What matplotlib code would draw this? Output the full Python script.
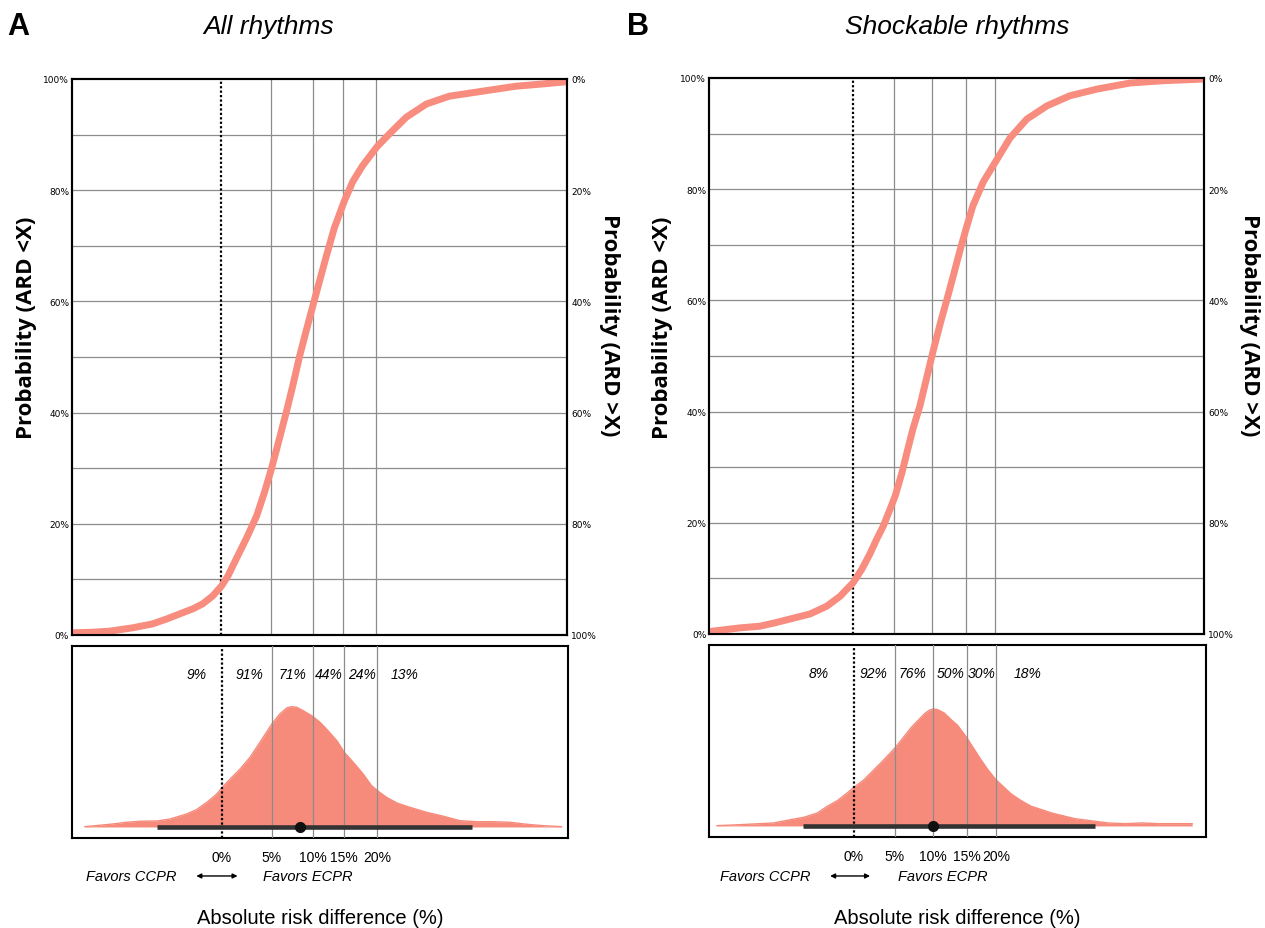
import matplotlib.pyplot as plt
import numpy as np

plt.rcParams['font.family'] = ['Liberation Sans', 'DejaVu Sans']

# x values are positions across the axis width (0-100),
# the ARD axis in the original figure is not linear
ard_labels = ['0%', '5%', '10%', '15%', '20%']
a_ard_pos = [30.2, 40.3, 48.6, 54.8, 61.5]
b_ard_pos = [29.1, 37.4, 45.1, 51.9, 57.8]

# cumulative probability (ARD < X), %
a_cdf_x = [0.2, 4.2, 7.7, 12.3, 16.3, 19.2, 21.2, 24.4, 26.4, 28.4, 30.2,
           31.5, 33.3, 35.3, 37.3, 38.9, 40.3, 41.9, 43.3, 44.6, 46.0, 47.4,
           48.6, 49.6, 51.4, 53.0, 55.0, 56.7, 58.7, 61.7, 64.1, 67.5, 71.6,
           76.2, 82.9, 89.7, 95.0, 99.8]
a_cdf_p = [0.4, 0.5, 0.7, 1.3, 2.0, 2.9, 3.6, 4.7, 5.6, 7.0, 8.8,
           10.6, 13.9, 17.5, 21.4, 25.7, 29.9, 35.3, 40.1, 44.8, 50.2, 55.0,
           59.0, 62.3, 68.2, 73.2, 78.0, 81.5, 84.4, 87.9, 90.1, 93.1, 95.5,
           96.9, 97.8, 98.7, 99.1, 99.5]

b_cdf_x = [0.6, 6.3, 10.3, 13.3, 16.4, 20.4, 23.8, 26.5, 28.1, 29.1, 30.9,
           32.5, 33.9, 35.2, 36.6, 37.6, 39.0, 40.0, 41.2, 42.6, 44.0, 45.3,
           46.7, 48.1, 49.1, 50.7, 52.1, 53.3, 55.4, 58.2, 60.8, 64.2, 68.3,
           72.9, 78.4, 85.1, 91.7, 99.8]
b_cdf_p = [0.5, 1.1, 1.4, 2.0, 2.7, 3.6, 5.0, 6.8, 8.3, 9.2, 11.7,
           14.4, 17.1, 19.4, 22.5, 24.8, 29.1, 32.7, 36.9, 41.0, 46.2, 51.0,
           55.8, 60.3, 63.6, 69.0, 73.4, 77.0, 81.3, 85.4, 89.2, 92.6, 95.0,
           96.8, 98.0, 99.1, 99.5, 99.8]

# posterior density (relative height)
a_dens_x = [2.6, 7.7, 11.0, 13.7, 17.1, 19.8, 23.1, 25.1, 27.2, 29.2, 30.3,
            31.9, 33.9, 35.9, 37.9, 40.3, 41.9, 43.3, 44.2, 45.3, 46.6, 48.5,
            50.0, 51.3, 53.4, 54.9, 56.7, 58.7, 60.4, 61.6, 63.4, 65.5, 68.1,
            71.5, 74.9, 78.2, 81.6, 84.9, 88.3, 91.7, 95.0, 98.7]
a_dens_y = [0.3, 2.7, 4.7, 5.7, 6.0, 8.0, 13.0, 17.3, 24.7, 33.0, 39.7,
            48.0, 58.0, 69.7, 84.7, 103.0, 113.0, 119.0, 120.3, 119.7, 116.3, 110.7,
            104.7, 98.0, 86.3, 74.7, 64.7, 53.0, 41.3, 36.3, 29.7, 24.0, 19.7,
            14.7, 10.7, 6.3, 5.3, 5.3, 4.7, 2.7, 1.3, 0.3]

b_dens_x = [1.6, 6.3, 13.0, 16.4, 19.1, 21.8, 23.8, 25.8, 27.8, 29.0, 31.2,
            33.2, 35.2, 37.4, 39.3, 40.6, 42.0, 43.3, 44.3, 45.1, 46.0, 47.3,
            48.7, 50.0, 51.9, 53.4, 54.7, 56.1, 57.7, 59.5, 60.8, 62.8, 64.8,
            66.9, 68.9, 71.6, 73.6, 77.6, 80.3, 83.7, 87.1, 90.4, 97.2]
b_dens_y = [0.3, 1.3, 3.0, 6.3, 8.7, 13.0, 19.7, 25.3, 33.0, 38.0, 46.3,
            56.3, 66.3, 78.0, 89.7, 98.0, 105.3, 112.0, 115.7, 117.0, 116.3, 113.0,
            106.3, 100.7, 88.0, 76.3, 66.3, 56.3, 46.3, 38.0, 32.0, 25.3, 19.7,
            16.3, 13.0, 9.7, 7.3, 4.7, 3.0, 2.3, 3.0, 2.3, 2.3]

# median and 95% interval
a_interval = [17.1, 46.0, 80.6]
b_interval = [19.0, 45.1, 77.6]

# P(ARD < 0) and P(ARD > x) labels
a_probs = ['9%', '91%', '71%', '44%', '24%', '13%']
a_prob_pos = [25.2, 35.7, 44.4, 51.8, 58.5, 67.1]
b_probs = ['8%', '92%', '76%', '50%', '30%', '18%']
b_prob_pos = [22.0, 33.1, 41.0, 48.7, 54.9, 64.0]

line_col = '#F88C7E'
fill_col = '#F68A7B'
grid_col = '#8c8c8c'

fig = plt.figure(figsize=(12.65, 9.29), dpi=100)


def panel(x0, top_rect, bot_rect, letter, ard_pos, cdf_x, cdf_p,
          dens_x, dens_y, interval, probs, prob_pos, ylab_x, ylab2_x):
    ax = fig.add_axes(top_rect)
    ax.set_xlim(0, 100)
    ax.set_ylim(0, 100)
    for y in range(10, 100, 10):
        ax.axhline(y, color=grid_col, lw=0.9, zorder=1)
    for xp in ard_pos[1:]:
        ax.axvline(xp, color=grid_col, lw=0.9, zorder=1)
    ax.axvline(ard_pos[0], color='black', lw=1.6, ls=(0, (1, 1)), zorder=2)
    ax.plot(cdf_x, cdf_p, color=line_col, lw=5, solid_capstyle='round',
            solid_joinstyle='round', zorder=3)
    ax.set_xticks([])
    ax.set_yticks(range(0, 101, 20))
    ax.set_yticklabels(['%d%%' % v for v in range(0, 101, 20)],
                       family='DejaVu Sans', fontsize=6.5)
    ax.tick_params(axis='y', length=0, pad=2)
    for s in ax.spines.values():
        s.set_linewidth(1.5)
    ax2 = ax.twinx()
    ax2.set_ylim(100, 0)
    ax2.set_yticks(range(0, 101, 20))
    ax2.set_yticklabels(['%d%%' % v for v in range(0, 101, 20)],
                        family='DejaVu Sans', fontsize=6.5)
    ax2.tick_params(axis='y', length=0, pad=3)
    for s in ax2.spines.values():
        s.set_linewidth(1.5)

    fig.text(ylab_x, 0.647, 'Probability (ARD <X)', rotation=90,
             ha='center', va='center', fontsize=16, fontweight='bold',
             family='Open Sans')
    fig.text(ylab2_x, 0.650, 'Probability (ARD >X)', rotation=270,
             ha='center', va='center', fontsize=16, fontweight='bold',
             family='Open Sans')

    # density panel
    bx = fig.add_axes(bot_rect)
    bx.set_xlim(0, 100)
    bx.set_ylim(-11, 181)
    bx.fill_between(dens_x, dens_y, 0, color=fill_col, lw=0, zorder=2)
    bx.plot(dens_x, dens_y, color=fill_col, lw=1, zorder=2)
    for xp in ard_pos[1:]:
        bx.axvline(xp, color=grid_col, lw=0.9, zorder=3)
    bx.axvline(ard_pos[0], color='black', lw=1.6, ls=(0, (1, 1)), zorder=3)
    bx.plot([interval[0], interval[2]], [0, 0], color='#333333', lw=3.3,
            solid_capstyle='butt', zorder=4)
    bx.plot([interval[1]], [0], 'o', color='#111111', ms=7, zorder=5)
    for t, xp in zip(probs, prob_pos):
        bx.text(xp, 0.855, t, transform=bx.get_xaxis_transform(),
                ha='center', va='center', fontsize=10, style='italic')
    bx.set_yticks([])
    bx.set_xticks(ard_pos)
    bx.set_xticklabels(ard_labels, fontsize=10)
    bx.tick_params(axis='x', length=0, pad=9)
    for s in bx.spines.values():
        s.set_linewidth(1.5)

    fig.text(x0 + 0.006, 0.971, letter, fontsize=22, fontweight='bold',
             ha='left', va='center')


panel(0.0, [0.0569, 0.3154, 0.3913, 0.5985], [0.0569, 0.0969, 0.3921, 0.2067],
      'A', a_ard_pos, a_cdf_x, a_cdf_p, a_dens_x, a_dens_y,
      a_interval, a_probs, a_prob_pos, 0.0213, 0.482)
panel(0.490, [0.5605, 0.3165, 0.3913, 0.5985], [0.5605, 0.0980, 0.3929, 0.2067],
      'B', b_ard_pos, b_cdf_x, b_cdf_p, b_dens_x, b_dens_y,
      b_interval, b_probs, b_prob_pos, 0.524, 0.988)

fig.text(0.212, 0.971, 'All rhythms', fontsize=19, style='italic',
         ha='center', va='center')
fig.text(0.757, 0.971, 'Shockable rhythms', fontsize=19, style='italic',
         ha='center', va='center')

for cx, ax0, ax1, ex in [(0.104, 0.153, 0.190, 0.243),
                         (0.605, 0.654, 0.690, 0.745)]:
    fig.text(cx, 0.056, 'Favors CCPR', fontsize=10.5, style='italic',
             ha='center', va='center')
    fig.text(ex, 0.056, 'Favors ECPR', fontsize=10.5, style='italic',
             ha='center', va='center')
    fig.add_artist(plt.Annotation('', xy=(ax1, 0.056), xytext=(ax0, 0.056),
                                  xycoords='figure fraction',
                                  arrowprops=dict(arrowstyle='<|-|>', color='black',
                                                  lw=1, mutation_scale=7)))

fig.text(0.253, 0.011, 'Absolute risk difference (%)', fontsize=14.5,
         ha='center', va='center')
fig.text(0.757, 0.011, 'Absolute risk difference (%)', fontsize=14.5,
         ha='center', va='center')

fig.savefig('out.png', dpi=100)
